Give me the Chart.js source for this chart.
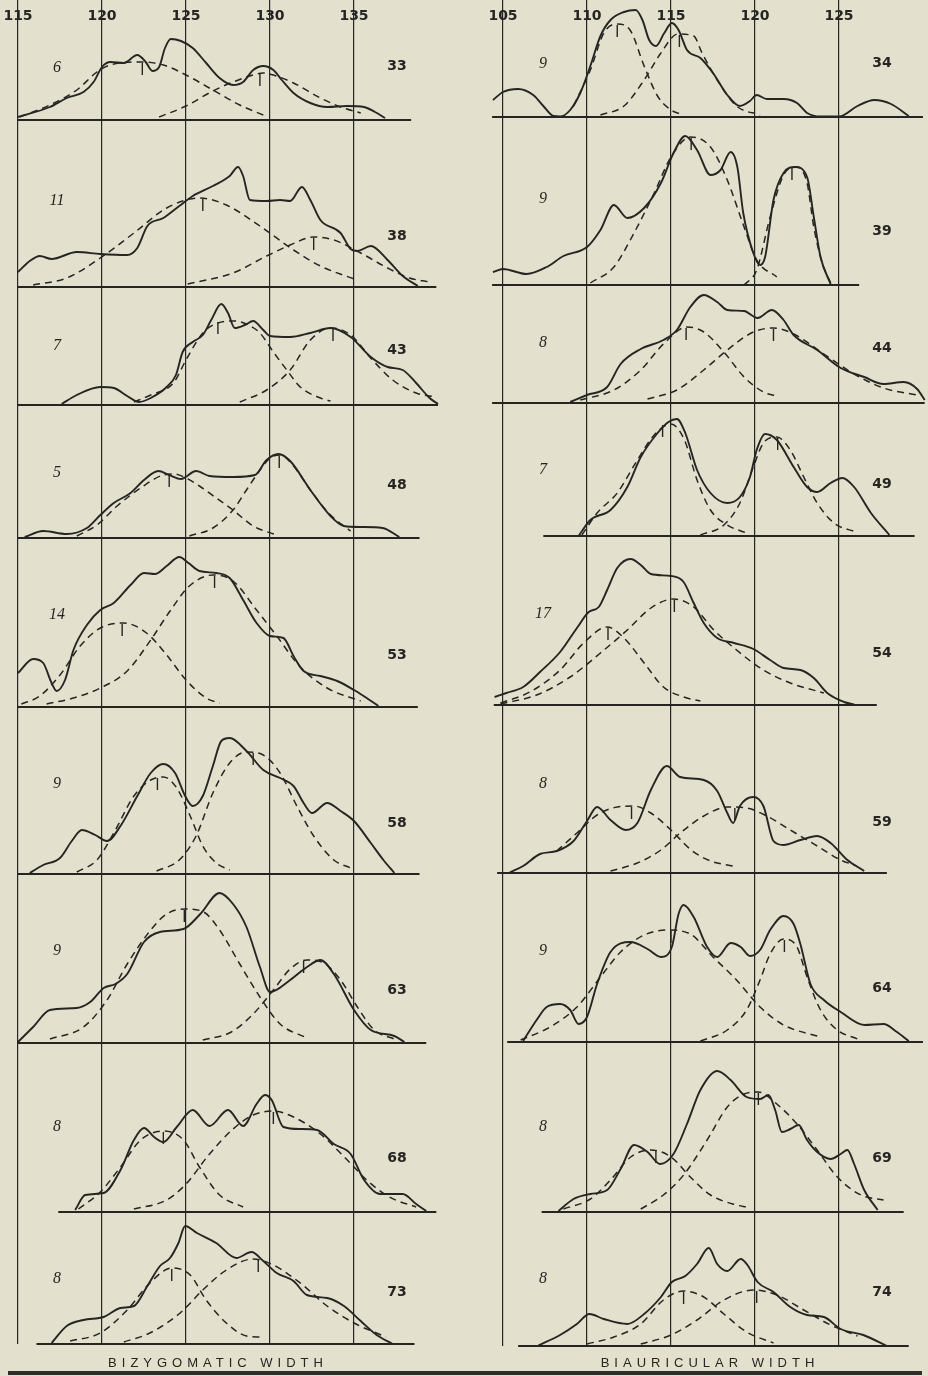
<!DOCTYPE html>
<html><head><meta charset="utf-8">
<script src="https://cdn.jsdelivr.net/npm/chart.js@4"></script>
<style>
html,body{margin:0;padding:0;background:#e3e0ce;}
#page{position:relative;width:928px;height:1376px;overflow:hidden;background:#e3e0ce;}
#page canvas{position:absolute;}
.lbl{position:absolute;transform:translate(-50%,-50%);color:#262521;white-space:nowrap;line-height:1;}
.cnt{font:italic 16px "Liberation Serif",serif;}
.grp{font:bold 14px "DejaVu Sans",sans-serif;}
.ttl{font:13px "Liberation Sans",sans-serif;letter-spacing:5px;}
#bar{position:absolute;left:8px;top:1371px;width:914px;height:4px;background:#2f2e2a;}
</style></head><body><div id="page"><div id="bar"></div></div>
<script>
// ---------------- DATA ----------------
const bizTitle = 'BIZYGOMATIC WIDTH';
const biaTitle = 'BIAURICULAR WIDTH';
const bizTicks = [115, 120, 125, 130, 135];
const biaTicks = [105, 110, 115, 120, 125];
const bizGroups = ['33','38','43','48','53','58','63','68','73'];
const bizCounts = ['6','11','7','5','14','9','9','8','8'];
const biaGroups = ['34','39','44','49','54','59','64','69','74'];
const biaCounts = ['9','9','8','7','17','8','9','8','8'];

// baseline extents (x units)
const bizBaseFrom = [115,115,115,115,115,115,115,117.4,116.1];
const bizBaseTo   = [138.4,139.9,140.0,138.9,138.8,138.9,139.3,139.9,138.6];
const biaBaseFrom = [104.35,104.35,104.35,107.4,104.45,104.65,105.25,107.3,105.9];
const biaBaseTo   = [130.0,126.2,130.1,129.5,127.25,127.85,130.0,128.85,129.15];

// component means (tick marks)
const bizMeans = [[122.4,129.4],[126.0,132.6],[126.9,133.75],[124.0,130.55],[121.2,126.7],[123.3,129.0],[124.9,132.0],[123.65,130.2],[124.15,129.3]];
const biaMeans = [[111.8,115.5],[116.2,122.2],[115.9,121.1],[114.5,121.35],[111.25,115.2],[112.65,118.8],[115.0,121.75],[114.1,120.2],[115.75,120.1]];

// Bizygomatic width — observed (solid) and two fitted components (dashed)
const biz33_obs = [[115.0,3],[116.9,13],[117.9,22],[118.9,28],[119.5,38],[120.0,53],[120.5,58],[121.3,57],[122.1,65],[122.6,58],[123.0,49],[123.4,53],[123.75,72],[124.1,81],[124.7,79],[125.4,72],[126.2,57],[127.0,42],[127.8,35],[128.4,38],[129.0,50],[129.6,54],[130.2,50],[130.7,40],[131.4,27],[132.4,17],[133.4,13],[134.6,14],[135.6,13],[136.25,8],[136.85,2]];
const biz33_c1 = [[115.1,3],[116.9,15],[118.5,30],[119.7,48],[120.5,55],[122.3,58],[123.65,55],[125.0,45],[126.6,30],[128.2,15],[129.6,5]];
const biz33_c2 = [[123.4,3],[125.0,14],[126.6,29],[127.8,38],[129.0,45],[129.6,47],[130.2,45],[131.4,37],[133.0,22],[134.2,13],[135.4,7]];

const biz38_obs = [[115.0,15],[115.7,26],[116.3,31],[117.0,28],[118.5,35],[119.9,33],[121.5,32],[122.1,39],[122.7,61],[123.65,69],[124.6,81],[125.4,91],[126.6,101],[127.6,111],[128.1,120],[128.4,111],[128.8,87],[129.8,86],[130.6,87],[131.2,86],[131.9,100],[132.4,87],[133.0,67],[134.2,54],[134.8,38],[135.2,36],[136.0,41],[137.0,27],[137.9,11],[138.8,1]];
const biz38_c1 = [[115.9,2],[117.9,9],[119.9,29],[121.9,54],[123.85,79],[125.8,89],[127.4,82],[129.4,61],[131.4,37],[133.0,21],[135.0,8]];
const biz38_c2 = [[125.1,3],[127.8,14],[129.8,31],[131.2,42],[132.6,50],[133.8,47],[135.4,34],[137.0,19],[138.3,9],[139.5,5]];

const biz43_obs = [[117.6,1],[118.5,10],[119.9,18],[120.7,17],[121.5,9],[122.2,3],[122.9,7],[123.85,18],[124.4,30],[124.8,53],[125.4,63],[126.0,70],[126.5,85],[127.1,101],[127.5,92],[127.9,77],[128.5,80],[129.0,84],[129.6,75],[130.0,69],[131.2,68],[132.4,72],[133.6,77],[134.8,68],[136.0,48],[137.0,38],[137.9,35],[138.7,22],[139.5,7],[140.0,1]];
const biz43_c1 = [[121.9,3],[122.9,10],[124.25,22],[125.0,45],[126.0,72],[126.9,82],[127.9,84],[128.7,80],[129.4,72],[130.2,53],[131.0,35],[131.8,18],[133.0,7],[133.6,4]];
const biz43_c2 = [[128.2,3],[129.8,15],[131.2,35],[132.4,65],[133.6,77],[134.8,70],[136.1,45],[137.3,25],[138.7,12],[139.9,8]];

const biz48_obs = [[115.4,1],[116.5,7],[117.9,4],[119.1,10],[119.9,23],[120.7,35],[121.7,45],[122.5,58],[123.35,67],[124.0,63],[124.7,59],[125.6,67],[126.4,62],[127.8,61],[129.1,63],[129.8,78],[130.5,84],[131.2,77],[132.4,48],[133.6,22],[134.4,12],[135.4,11],[136.7,10],[137.7,1]];
const biz48_c1 = [[118.5,2],[119.7,13],[120.9,32],[122.3,50],[123.65,63],[124.3,64],[125.0,60],[125.8,52],[126.8,40],[127.8,28],[129.0,12],[130.4,3]];
const biz48_c2 = [[125.2,2],[126.6,10],[127.8,28],[128.6,48],[129.2,63],[130.0,80],[130.6,83],[131.4,72],[132.4,48],[133.6,23],[134.8,7]];

const biz53_obs = [[115.0,34],[115.9,48],[116.5,44],[117.0,24],[117.3,16],[117.8,27],[118.3,57],[119.1,82],[119.9,97],[120.7,104],[121.7,122],[122.5,134],[123.15,133],[123.85,141],[124.6,150],[125.15,144],[125.8,136],[126.8,134],[127.6,129],[128.4,107],[129.2,84],[130.0,71],[130.8,69],[131.4,51],[132.0,36],[133.0,31],[134.0,26],[135.0,17],[135.75,9],[136.45,1]];
const biz53_c1 = [[115.2,3],[116.3,11],[117.5,32],[118.7,61],[119.9,79],[121.3,84],[122.65,74],[123.85,52],[125.0,27],[126.2,9],[127.0,4]];
const biz53_c2 = [[116.7,3],[118.3,9],[119.9,19],[121.5,36],[122.9,67],[124.05,96],[125.2,121],[126.6,132],[127.8,126],[129.2,97],[130.4,71],[131.75,41],[133.4,19],[135.4,6]];

const biz58_obs = [[115.7,1],[116.5,9],[117.5,16],[118.2,33],[118.8,44],[119.6,39],[120.3,33],[121.1,48],[122.1,78],[122.9,101],[123.65,110],[124.35,101],[124.95,78],[125.4,68],[126.0,78],[126.6,108],[127.1,133],[127.6,136],[128.6,123],[129.6,104],[130.6,96],[131.4,88],[132.0,71],[132.5,61],[133.4,71],[134.2,63],[135.0,53],[136.0,31],[136.75,14],[137.4,1]];
const biz58_c1 = [[118.5,2],[119.7,14],[120.7,41],[121.9,78],[122.9,94],[123.65,97],[124.45,86],[125.25,58],[126.0,28],[126.8,11],[127.6,4]];
const biz58_c2 = [[123.25,3],[124.6,14],[125.6,38],[126.6,81],[127.6,111],[128.6,122],[129.6,119],[130.6,101],[131.6,68],[132.6,38],[133.8,14],[134.8,6]];

const biz63_obs = [[115.0,1],[115.9,16],[116.9,33],[118.5,35],[119.3,41],[120.1,55],[120.8,59],[121.5,69],[122.5,101],[123.45,111],[124.85,114],[125.85,129],[127.0,150],[127.8,139],[128.6,116],[129.4,76],[130.0,51],[131.2,63],[132.2,76],[133.0,83],[133.8,69],[135.0,33],[136.0,13],[137.4,7],[138.0,1]];
const biz63_c1 = [[116.9,4],[118.9,16],[120.3,43],[121.5,79],[122.9,113],[123.85,129],[124.95,134],[126.05,131],[127.0,113],[128.2,79],[129.4,46],[130.6,19],[132.2,5]];
const biz63_c2 = [[126.0,3],[127.7,11],[129.0,29],[130.2,53],[131.2,74],[132.2,83],[133.2,80],[134.2,63],[135.2,36],[136.2,13],[137.4,4]];

const biz68_obs = [[118.4,2],[119.0,17],[120.1,19],[121.1,42],[121.9,72],[122.5,84],[123.1,75],[123.65,70],[124.45,85],[125.4,102],[126.4,86],[127.5,102],[128.4,86],[129.2,108],[129.7,117],[130.1,112],[130.8,85],[131.8,83],[132.8,82],[133.8,68],[134.8,58],[135.6,32],[136.55,18],[137.9,18],[138.7,8],[139.3,1]];
const biz68_c1 = [[118.6,3],[119.9,20],[121.1,45],[122.3,72],[123.65,81],[124.85,72],[125.8,45],[127.0,17],[128.4,5]];
const biz68_c2 = [[121.9,3],[123.85,12],[125.0,28],[126.4,58],[127.8,83],[129.0,97],[130.2,101],[131.4,95],[133.0,78],[134.6,52],[135.75,32],[137.1,15],[138.7,5]];

const biz73_obs = [[117.0,1],[117.9,18],[118.9,24],[120.1,27],[121.1,36],[121.9,38],[122.7,58],[123.45,78],[124.05,86],[124.55,101],[124.95,118],[125.65,111],[126.8,101],[128.0,86],[128.9,92],[129.6,83],[130.4,71],[131.4,63],[132.2,49],[133.4,46],[134.4,38],[135.4,23],[136.35,9],[137.3,0]];
const biz73_c1 = [[118.1,3],[119.9,11],[121.5,34],[122.85,61],[124.15,76],[125.25,69],[126.2,44],[127.4,21],[128.6,8],[129.4,7]];
const biz73_c2 = [[121.3,2],[122.85,11],[124.65,31],[126.0,54],[127.4,74],[129.0,85],[130.2,79],[131.8,61],[133.4,38],[135.0,21],[136.9,7]];

// Biauricular width
const bia34_obs = [[104.4,17],[105.0,25],[105.9,28],[106.8,22],[107.4,11],[108.0,1],[108.4,0.5],[109.0,7],[109.6,24],[110.2,51],[110.8,81],[111.4,97],[112.2,105],[112.9,107],[113.3,97],[113.7,77],[114.1,71],[114.6,84],[115.05,94],[115.45,87],[115.95,67],[116.75,59],[117.5,44],[118.35,22],[119.1,11],[119.7,16],[120.1,22],[120.7,18],[121.7,18],[122.5,14],[123.1,4],[123.9,0.5],[125.0,0.5],[126.1,11],[127.1,17],[128.1,13],[129.15,1]];
const bia34_c1 = [[109.2,11],[110.2,47],[111.0,84],[111.8,93],[112.6,86],[113.4,51],[114.2,21],[115.0,7],[115.75,2]];
const bia34_c2 = [[110.8,2],[112.2,11],[113.4,37],[114.4,64],[115.4,83],[116.35,81],[116.85,64],[117.75,37],[118.9,11],[120.3,2]];

const bia39_obs = [[104.4,13],[105.0,16],[106.4,11],[107.6,18],[108.6,29],[110.0,38],[110.8,55],[111.6,80],[112.4,67],[113.4,77],[114.4,102],[115.15,132],[115.85,149],[116.55,135],[117.35,110],[117.95,115],[118.55,133],[118.95,118],[119.3,72],[119.9,32],[120.3,20],[120.6,28],[121.1,85],[121.7,112],[122.4,118],[123.1,108],[123.5,68],[123.9,28],[124.5,1]];
const bia39_c1 = [[110.2,2],[111.6,18],[112.8,52],[114.0,92],[115.0,128],[116.15,148],[117.35,138],[118.35,105],[119.35,58],[120.1,25],[121.3,8]];
const bia39_c2 = [[119.35,0],[120.1,15],[120.9,68],[121.7,110],[122.4,118],[123.1,102],[123.5,58],[124.0,22],[124.5,2]];

const bia44_obs = [[109.0,1],[110.0,8],[111.2,16],[112.0,39],[113.2,54],[114.55,63],[115.35,73],[116.15,96],[116.95,108],[117.75,101],[118.35,93],[119.35,92],[120.15,85],[121.0,93],[121.7,83],[122.3,68],[123.7,53],[125.1,35],[126.5,26],[127.65,19],[128.85,21],[129.65,14],[130.1,3]];
const bia44_c1 = [[109.6,3],[111.6,13],[113.2,33],[114.55,59],[115.95,76],[116.95,71],[118.15,51],[119.35,26],[120.5,11],[121.3,7]];
const bia44_c2 = [[113.6,4],[115.35,13],[116.95,33],[118.35,53],[119.9,71],[121.1,75],[122.3,69],[124.1,49],[125.9,29],[127.65,15],[129.65,8]];

const bia49_obs = [[109.5,0],[110.2,16],[111.4,26],[112.4,49],[113.2,79],[114.2,103],[114.85,114],[115.35,117],[115.85,103],[116.55,66],[117.35,43],[118.35,33],[119.1,39],[119.7,59],[120.1,86],[120.6,102],[121.3,96],[122.3,69],[123.1,49],[123.7,44],[124.5,53],[125.2,58],[125.9,49],[126.9,23],[128.0,1]];
const bia49_c1 = [[109.7,1],[110.6,23],[111.8,43],[113.0,76],[114.0,101],[115.0,112],[115.8,96],[116.55,56],[117.35,26],[118.35,11],[119.5,3]];
const bia49_c2 = [[116.75,1],[118.15,11],[119.1,33],[119.9,69],[120.5,93],[121.3,99],[122.1,86],[122.9,59],[123.7,33],[124.7,13],[126.0,4]];

const bia54_obs = [[104.5,8],[105.2,12],[106.2,18],[107.2,33],[108.4,53],[109.4,77],[110.1,93],[110.7,98],[111.2,115],[111.8,137],[112.6,146],[113.2,140],[113.8,131],[115.0,129],[115.75,123],[116.35,102],[116.95,82],[117.75,67],[118.75,62],[119.9,56],[120.9,45],[121.7,37],[122.7,35],[123.5,27],[124.3,12],[125.3,3],[125.9,0.5]];
const bia54_c1 = [[104.85,2],[106.6,13],[108.4,35],[109.8,62],[111.2,78],[112.2,67],[113.4,42],[114.55,18],[115.75,8],[116.75,4]];
const bia54_c2 = [[104.85,1],[107.0,10],[109.0,28],[110.8,52],[112.4,75],[113.8,97],[115.15,106],[116.35,98],[117.55,75],[118.9,55],[120.5,35],[122.1,22],[124.1,12]];

const bia59_obs = [[105.4,0.5],[106.2,7],[107.2,19],[108.2,22],[109.2,32],[110.0,52],[110.6,66],[111.4,53],[112.3,43],[113.0,50],[113.8,83],[114.75,107],[115.55,96],[116.95,93],[117.75,82],[118.35,60],[118.7,50],[119.1,67],[119.9,76],[120.5,67],[121.1,32],[121.7,28],[122.7,33],[123.7,37],[124.5,30],[125.5,13],[126.5,2]];
const bia59_c1 = [[108.2,22],[109.4,40],[110.6,58],[111.8,66],[112.8,67],[113.8,60],[115.0,43],[116.2,23],[117.35,12],[118.7,7]];
const bia59_c2 = [[111.4,2],[113.0,10],[114.4,23],[115.55,40],[116.95,57],[118.35,66],[119.5,65],[120.7,57],[122.1,43],[123.7,27],[125.1,13],[125.9,8]];

const bia64_obs = [[106.2,1],[107.0,22],[107.6,35],[108.4,38],[109.0,32],[109.5,18],[110.0,25],[110.6,58],[111.4,90],[112.6,100],[113.6,93],[114.4,85],[115.05,95],[115.45,128],[115.75,137],[116.35,125],[117.15,95],[117.75,85],[118.55,99],[119.15,95],[119.7,86],[120.3,92],[120.9,112],[121.7,126],[122.3,118],[122.7,98],[123.3,58],[124.1,42],[125.1,30],[126.5,17],[127.65,18],[128.45,10],[129.15,1]];
const bia64_c1 = [[106.05,2],[107.8,15],[109.4,35],[110.8,65],[112.0,90],[113.4,107],[114.75,112],[116.15,108],[117.5,85],[118.9,62],[120.3,35],[121.7,17],[123.9,5]];
const bia64_c2 = [[116.75,1],[118.35,12],[119.5,32],[120.3,62],[120.9,88],[121.7,103],[122.5,95],[123.1,65],[123.9,32],[124.9,12],[126.1,3]];

const bia69_obs = [[108.3,1],[109.2,13],[110.2,18],[111.2,22],[112.0,43],[112.8,67],[113.6,60],[114.35,48],[115.15,58],[115.95,88],[116.75,122],[117.75,141],[118.55,132],[119.5,115],[120.3,113],[120.8,117],[121.2,102],[121.6,80],[122.1,83],[122.6,87],[123.1,72],[123.7,60],[124.5,53],[125.1,58],[125.5,62],[125.9,48],[126.5,22],[127.3,2]];
const bia69_c1 = [[108.6,3],[110.2,13],[111.4,32],[112.6,55],[113.8,62],[115.0,55],[116.15,35],[117.35,17],[118.9,7],[119.5,5]];
const bia69_c2 = [[113.2,3],[114.55,17],[115.75,37],[117.15,72],[118.35,105],[119.35,118],[120.2,120],[121.3,108],[122.5,88],[123.7,62],[124.9,35],[126.3,17],[127.65,12]];

const bia74_obs = [[107.1,0.5],[108.4,11],[109.4,22],[110.15,32],[111.0,27],[112.4,22],[113.4,32],[114.4,49],[115.05,64],[115.85,70],[116.55,82],[117.25,98],[117.75,82],[118.35,75],[119.15,87],[119.55,81],[120.15,64],[121.1,54],[122.1,39],[123.1,31],[124.1,29],[125.1,17],[126.45,11],[127.85,0]];
const bia74_c1 = [[110.0,2],[111.6,9],[113.2,22],[114.55,46],[115.75,55],[116.95,49],[118.15,32],[119.5,14],[121.1,3]];
const bia74_c2 = [[113.2,2],[115.0,11],[116.55,26],[118.15,46],[119.9,56],[121.3,51],[122.9,36],[124.5,21],[126.1,10]];

const bizObs = [biz33_obs,biz38_obs,biz43_obs,biz48_obs,biz53_obs,biz58_obs,biz63_obs,biz68_obs,biz73_obs];
const bizC1  = [biz33_c1,biz38_c1,biz43_c1,biz48_c1,biz53_c1,biz58_c1,biz63_c1,biz68_c1,biz73_c1];
const bizC2  = [biz33_c2,biz38_c2,biz43_c2,biz48_c2,biz53_c2,biz58_c2,biz63_c2,biz68_c2,biz73_c2];
const biaObs = [bia34_obs,bia39_obs,bia44_obs,bia49_obs,bia54_obs,bia59_obs,bia64_obs,bia69_obs,bia74_obs];
const biaC1  = [bia34_c1,bia39_c1,bia44_c1,bia49_c1,bia54_c1,bia59_c1,bia64_c1,bia69_c1,bia74_c1];
const biaC2  = [bia34_c2,bia39_c2,bia44_c2,bia49_c2,bia54_c2,bia59_c2,bia64_c2,bia69_c2,bia74_c2];

// ---------------- LAYOUT / STYLE ----------------
const INK = '#262521';
const PXU = 16.8;          // pixels per x unit
const page = document.getElementById('page');

const columns = [
  {left:0, width:464, origin:115, originPx:18, ticks:bizTicks, groups:bizGroups, counts:bizCounts,
   obs:bizObs, c1:bizC1, c2:bizC2, means:bizMeans, baseFrom:bizBaseFrom, baseTo:bizBaseTo,
   baselines:[120,287,405,538,707,874,1043,1212,1344],
   countX:57, groupX:397,
   countY:[67,200,345,472,614,783,950,1126,1278],
   groupY:[65,235,349,484,654,822,989,1157,1291],
   title:bizTitle, titleX:218},
  {left:464, width:464, origin:105, originPx:39, ticks:biaTicks, groups:biaGroups, counts:biaCounts,
   obs:biaObs, c1:biaC1, c2:biaC2, means:biaMeans, baseFrom:biaBaseFrom, baseTo:biaBaseTo,
   baselines:[117,285,403,536,705,873,1042,1212,1346],
   countX:79, groupX:418,
   countY:[63,198,342,469,613,783,950,1126,1278],
   groupY:[62,230,347,483,652,821,987,1157,1291],
   title:biaTitle, titleX:246}
];

const toPts = arr => arr.map(([x, y]) => ({x, y}));

function addCanvas(left, top, w, h) {
  const c = document.createElement('canvas');
  c.width = w; c.height = h;
  c.style.left = left + 'px'; c.style.top = top + 'px';
  c.style.width = w + 'px'; c.style.height = h + 'px';
  page.appendChild(c);
  return c;
}

function addLabel(text, cls, x, y) {
  const d = document.createElement('div');
  d.className = 'lbl ' + cls;
  d.textContent = text;
  d.style.left = x + 'px'; d.style.top = y + 'px';
  page.appendChild(d);
}

const baseOpts = {
  responsive: false, animation: false, events: [],
  plugins: {legend: {display: false}, tooltip: {enabled: false}},
  elements: {point: {radius: 0}, line: {cubicInterpolationMode: 'monotone', fill: false}}
};

columns.forEach(col => {
  const xmin = col.origin - col.originPx / PXU;
  const xmax = xmin + col.width / PXU;
  const setTicks = s => { s.ticks = col.ticks.map(v => ({value: v})); };

  col.baselines.forEach((base, i) => {
    const top = i === 0 ? 0 : col.baselines[i - 1];
    const h = base - top;
    const cv = addCanvas(col.left, top, col.width, h + 3);
    const comps = [col.c1[i], col.c2[i]];
    const marks = col.means[i].map((m, k) => ({x: m, y: Math.max(...comps[k].map(p => p[1])) - 7}));
    const dashed = {borderColor: INK, borderWidth: 1.5, borderDash: [7, 5], clip: false, cubicInterpolationMode: 'monotone'};
    new Chart(cv, {
      type: 'line',
      data: {datasets: [
        Object.assign({data: toPts(col.c1[i])}, dashed),
        Object.assign({data: toPts(col.c2[i])}, dashed),
        {data: toPts(col.obs[i]), borderColor: INK, borderWidth: 1.9, clip: false, cubicInterpolationMode: 'monotone'},
        {data: [{x: col.baseFrom[i], y: 0}, {x: col.baseTo[i], y: 0}], borderColor: INK, borderWidth: 2.2, clip: false},
        {data: marks, showLine: false, pointStyle: 'line', pointRadius: 6, pointRotation: 90,
         pointBorderColor: INK, pointBorderWidth: 1.4, clip: false}
      ]},
      options: Object.assign({}, baseOpts, {
        layout: {autoPadding: false, padding: {top: 0, left: 0, right: 0, bottom: 3}},
        scales: {
          x: {type: 'linear', min: xmin, max: xmax, afterBuildTicks: setTicks,
              ticks: {display: false}, border: {display: false},
              grid: {color: INK, lineWidth: 1.2, drawTicks: false}},
          y: {type: 'linear', min: 0, max: h, display: false}
        }
      })
    });
    addLabel(col.counts[i], 'cnt', col.left + col.countX, col.countY[i]);
    addLabel(col.groups[i], 'grp', col.left + col.groupX, col.groupY[i]);
  });

  // header with tick labels
  const hc = addCanvas(col.left, 0, col.width, 40);
  new Chart(hc, {
    type: 'line',
    data: {datasets: []},
    options: Object.assign({}, baseOpts, {
      layout: {autoPadding: false, padding: {top: 10, left: 0, right: 0, bottom: 0}},
      scales: {
        x: {type: 'linear', position: 'top', min: xmin, max: xmax, afterBuildTicks: setTicks,
            ticks: {color: INK, padding: 0, maxRotation: 0, autoSkip: false,
                    font: {family: 'DejaVu Sans', weight: 'bold', size: 14}},
            grid: {display: false, drawTicks: false}, border: {display: false}},
        y: {type: 'linear', min: 0, max: 1, display: false}
      }
    })
  });

  addLabel(col.title, 'ttl', col.left + col.titleX, 1362);
});
</script>
</body></html>
